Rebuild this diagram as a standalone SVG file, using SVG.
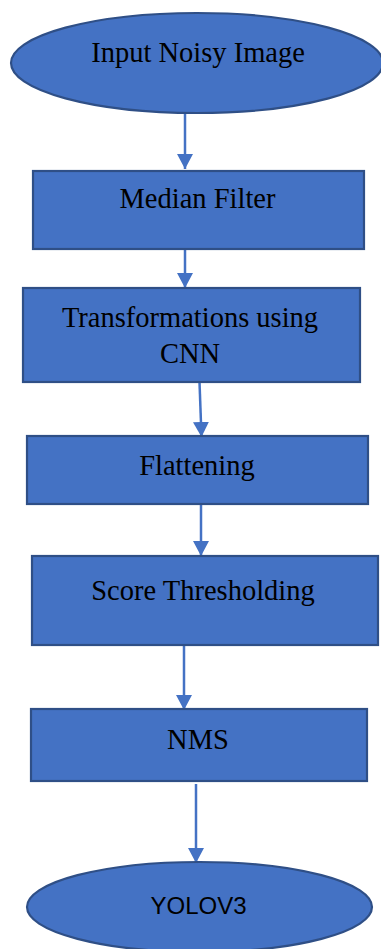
<svg xmlns="http://www.w3.org/2000/svg" width="381" height="949" viewBox="0 0 381 949">
<style>
.node{fill:#4472C4;stroke:#2F4F86;stroke-width:2.2}
.t{font-family:"Liberation Serif","Times New Roman",serif;font-size:28.5px;fill:#000;text-anchor:middle}
.s{font-family:"Liberation Sans",Arial,sans-serif;font-size:24px;fill:#000;text-anchor:middle}
.c{stroke:#4472C4;stroke-width:2.5;fill:none}
</style>
<defs>
<marker id="ah" markerUnits="userSpaceOnUse" markerWidth="16" markerHeight="16" viewBox="0 0 16 16" refX="15" refY="8" orient="auto">
<path d="M0,0 L15,8 L0,16 Z" fill="#4472C4"/>
</marker>
</defs>
<rect width="381" height="949" fill="#fff"/>
<g id="connectors">
<line class="c" x1="185" y1="113" x2="185" y2="169" marker-end="url(#ah)"/>
<line class="c" x1="185" y1="249" x2="185" y2="288" marker-end="url(#ah)"/>
<line class="c" x1="199.5" y1="382" x2="201.5" y2="437" marker-end="url(#ah)"/>
<line class="c" x1="201" y1="504" x2="201" y2="556" marker-end="url(#ah)"/>
<line class="c" x1="184" y1="645" x2="184" y2="710" marker-end="url(#ah)"/>
<line class="c" x1="196" y1="784" x2="196" y2="863" marker-end="url(#ah)"/>
</g>
<g id="input">
<ellipse class="node" cx="197" cy="63" rx="186" ry="50"/>
<text class="t" x="198" y="62">Input Noisy Image</text>
</g>
<g id="median">
<rect class="node" x="33" y="171" width="331" height="78"/>
<text class="t" x="197.5" y="208">Median Filter</text>
</g>
<g id="cnn">
<rect class="node" x="23" y="288" width="337" height="94"/>
<text class="t" x="190" y="327">Transformations using</text>
<text class="t" x="190" y="363">CNN</text>
</g>
<g id="flatten">
<rect class="node" x="27" y="436" width="341" height="68"/>
<text class="t" x="197" y="475">Flattening</text>
</g>
<g id="score">
<rect class="node" x="32" y="556" width="346" height="89"/>
<text class="t" x="203" y="600">Score Thresholding</text>
</g>
<g id="nms">
<rect class="node" x="31" y="709" width="336" height="72"/>
<text class="t" x="198" y="749">NMS</text>
</g>
<g id="yolo">
<ellipse class="node" cx="199.5" cy="907" rx="172.5" ry="45"/>
<text class="s" x="198.5" y="914">YOLOV3</text>
</g>
</svg>
